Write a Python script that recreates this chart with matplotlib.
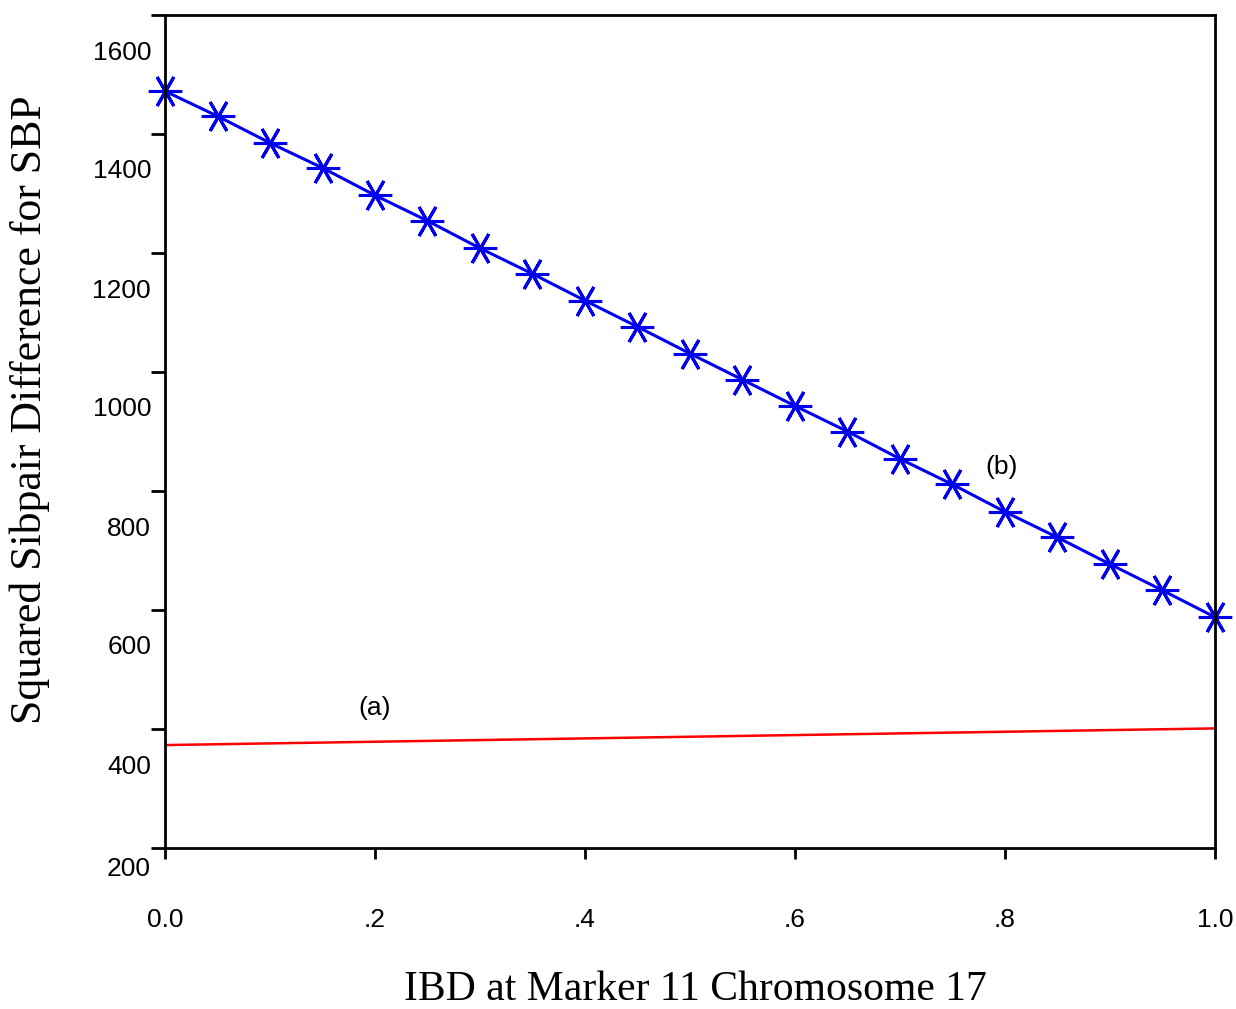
import matplotlib
matplotlib.use("Agg")
import matplotlib.pyplot as plt
from matplotlib.transforms import ScaledTranslation

# IBD proportion and squared sibpair difference
ibd_b = [0.0, 0.05, 0.1, 0.15, 0.2, 0.25, 0.3, 0.35, 0.4, 0.45, 0.5,
         0.55, 0.6, 0.65, 0.7, 0.75, 0.8, 0.85, 0.9, 0.95, 1.0]
sqdiff_b = [1472, 1430, 1385, 1343, 1297, 1254, 1208, 1165, 1120, 1076, 1031,
            987, 943, 900, 854, 811, 765, 722, 677, 633, 588]
ibd_a = [0.0, 1.0]
sqdiff_a = [373, 401]

xticks = [0.0, 0.2, 0.4, 0.6, 0.8, 1.0]
xtick_labels = ["0.0", ".2", ".4", ".6", ".8", "1.0"]
yticks = [200, 400, 600, 800, 1000, 1200, 1400, 1600]

fig = plt.figure(figsize=(12.36, 10.09), dpi=100)
ax = fig.add_axes([165 / 1236, 1 - 848 / 1009, 1050 / 1236, 833 / 1009])

ax.plot(ibd_a, sqdiff_a, color="#ff0000", lw=1.8)
ax.plot(ibd_b, sqdiff_b, color="#0000ee", lw=2.2, clip_on=False,
        marker=(6, 2, 90), markersize=24, markeredgewidth=2.2,
        markeredgecolor="#0000ee")

ax.text(0.20, 435, "(a)", fontsize=19, family="Liberation Sans", ha="center", va="center")
ax.text(0.797, 840, "(b)", fontsize=19, family="Liberation Sans", ha="center", va="center")

ax.set_xlim(0, 1)
ax.set_ylim(200, 1600)
ax.set_xticks(xticks)
ax.set_xticklabels(xtick_labels, family="Liberation Sans", fontsize=19)
ax.set_yticks(yticks)
ax.set_yticklabels([str(v) for v in yticks], family="Liberation Sans", fontsize=19)

for s in ax.spines.values():
    s.set_linewidth(2)
ax.tick_params(axis="y", length=10, width=2, pad=0)
ax.tick_params(axis="x", length=8, width=2, pad=35)

# labels sit below their ticks, as in the original software output
for lab in ax.get_yticklabels():
    dy = 18 if lab.get_text() == "200" else 35
    lab.set_transform(lab.get_transform() + ScaledTranslation(0, -dy / 100, fig.dpi_scale_trans))

ax.set_xlabel("IBD at Marker 11 Chromosome 17", family="Liberation Serif", fontsize=30)
ax.set_ylabel("Squared Sibpair Difference for SBP", family="Liberation Serif", fontsize=31.5)
ax.xaxis.set_label_coords(0.505, -0.147)
ax.yaxis.set_label_coords(-0.110, 0.526)

fig.savefig("out.png", dpi=100)
